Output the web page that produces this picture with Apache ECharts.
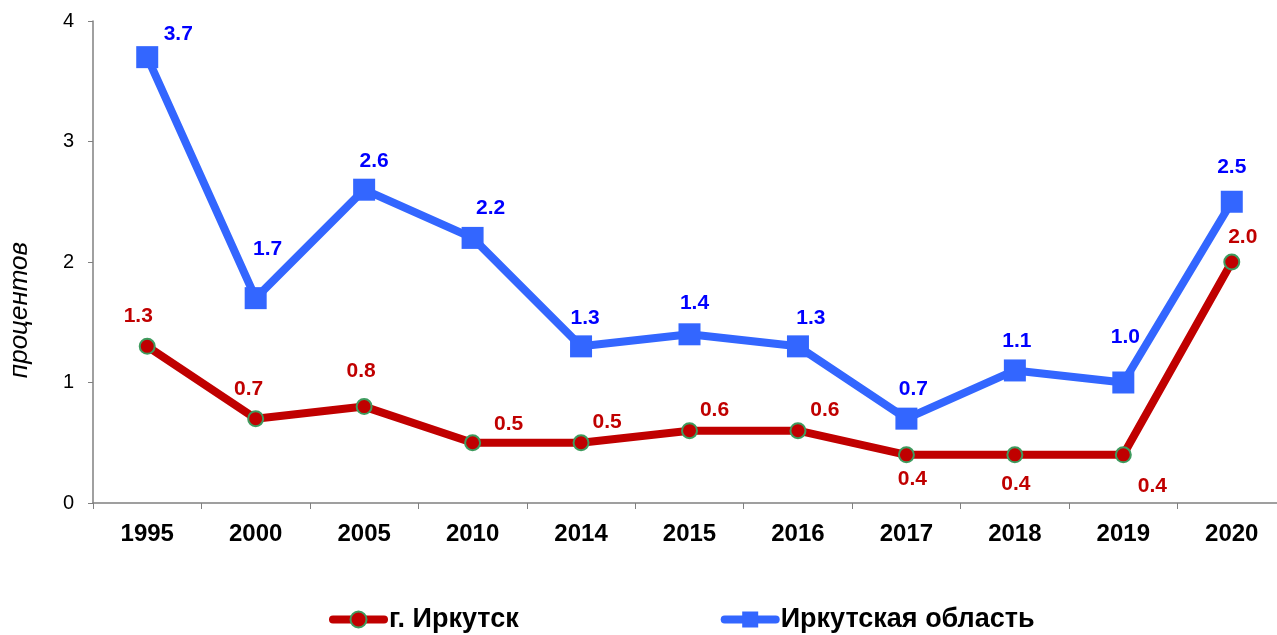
<!DOCTYPE html>
<html>
<head>
<meta charset="utf-8">
<script src="https://cdn.jsdelivr.net/npm/echarts@6/dist/echarts.min.js"></script>
<style>
html,body{margin:0;padding:0;background:#fff;}
#chart{width:1277px;height:635px;}
</style>
</head>
<body>
<div id="chart"></div>
<script>
// данные
var years = ['1995','2000','2005','2010','2014','2015','2016','2017','2018','2019','2020']
var irkutskCity = [1.3, 0.7, 0.8, 0.5, 0.5, 0.6, 0.6, 0.4, 0.4, 0.4, 2.0]
var irkutskRegion = [3.7, 1.7, 2.6, 2.2, 1.3, 1.4, 1.3, 0.7, 1.1, 1.0, 2.5]
var yTicks = [0, 1, 2, 3, 4]

// сдвиги подписей (px)
var cityLabelShift = [[-9,-30],[-7,-29],[-3,-35],[36,-19],[26,-21],[25,-20],[27,-20],[6,24],[1,29],[29,31],[11,-25]]
var regionLabelShift = [[31,-23],[12,-49],[10,-28],[18,-30],[4,-28],[5,-31],[13,-28],[7,-29],[2,-29],[2,-45],[0,-35]]

var font = 'Liberation Sans, Arial, sans-serif'

function withLabels(values, shifts){
    return values.map(function(v, i){
        return {value: v, label: {offset: shifts[i]}}
    })
}

var chart = echarts.init(document.getElementById('chart'))
var option = {
    animation: false,
    textStyle: {fontFamily: font},
    grid: {left: 93, right: -9, top: 21, bottom: 132, containLabel: false, outerBoundsMode: 'none'},
    legend: {
        left: 324,
        bottom: -3,
        itemGap: 202,
        itemWidth: 51,
        itemHeight: 20,
        textStyle: {fontFamily: font, fontSize: 27, fontWeight: 'bold', color: '#000'},
        lineStyle: {width: 8, cap: 'round'},
        data: ['г. Иркутск', 'Иркутская область']
    },
    xAxis: {
        type: 'category',
        data: years,
        boundaryGap: true,
        axisLine: {lineStyle: {color: '#808080', width: 1.5}},
        axisTick: {show: true, length: 6, lineStyle: {color: '#808080'}},
        axisLabel: {margin: 19, fontSize: 24, fontWeight: 'bold', color: '#000', fontFamily: font}
    },
    yAxis: {
        type: 'value',
        min: yTicks[0],
        max: yTicks[yTicks.length - 1],
        interval: 1,
        name: 'процентов',
        nameLocation: 'middle',
        nameGap: 60,
        nameTextStyle: {fontSize: 26, fontStyle: 'italic', color: '#000', fontFamily: font, padding: [0, 96, 0, 0]},
        axisLine: {show: true, lineStyle: {color: '#808080', width: 1.5}},
        axisTick: {show: true, length: 5, lineStyle: {color: '#808080'}},
        splitLine: {show: false},
        axisLabel: {margin: 19, fontSize: 20, color: '#000', fontFamily: font}
    },
    series: [
        {
            name: 'г. Иркутск',
            type: 'line',
            data: withLabels(irkutskCity, cityLabelShift),
            symbol: 'circle',
            symbolSize: 15,
            lineStyle: {color: '#C00000', width: 8},
            itemStyle: {color: '#C00000', borderColor: '#3E9B5E', borderWidth: 2},
            label: {
                show: true,
                position: 'inside',
                color: '#C00000',
                fontSize: 21,
                fontWeight: 'bold',
                fontFamily: font,
                formatter: function(p){ return p.value.toFixed(1) }
            },
            z: 3
        },
        {
            name: 'Иркутская область',
            type: 'line',
            data: withLabels(irkutskRegion, regionLabelShift),
            symbol: 'rect',
            symbolSize: 22,
            lineStyle: {color: '#3366FF', width: 8},
            itemStyle: {color: '#3366FF'},
            label: {
                show: true,
                position: 'inside',
                color: '#0000FF',
                fontSize: 21,
                fontWeight: 'bold',
                fontFamily: font,
                formatter: function(p){ return p.value.toFixed(1) }
            },
            z: 2
        }
    ]
}
chart.setOption(option)
</script>
</body>
</html>
